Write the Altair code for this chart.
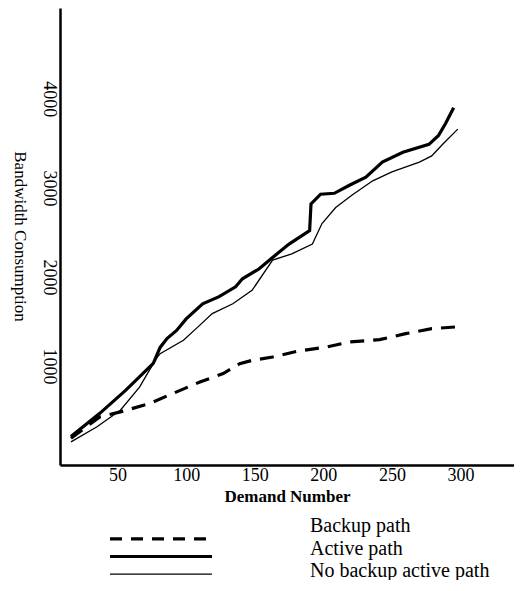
import altair as alt
import pandas as pd

series_names = ["Backup path", "Active path", "No backup active path"]

# Active path (thick solid)
active_x = [16, 37, 56, 76, 81, 86, 93, 100, 112, 124, 136, 141, 153, 163, 175, 190, 191, 198, 208, 219, 231, 243, 258, 277, 284, 289, 295]
active_y = [210, 470, 730, 1030, 1210, 1310, 1400, 1530, 1700, 1780, 1890, 1980, 2090, 2220, 2370, 2520, 2820, 2930, 2940, 3030, 3120, 3290, 3400, 3490, 3590, 3720, 3900]

# No backup active path (thin solid)
nobackup_x = [16, 35, 52, 66, 73, 79, 81, 98, 110, 119, 134, 148, 163, 177, 192, 199, 209, 221, 236, 250, 270, 279, 287, 298]
nobackup_y = [150, 320, 505, 765, 950, 1100, 1140, 1290, 1460, 1590, 1700, 1850, 2190, 2260, 2370, 2600, 2780, 2920, 3080, 3180, 3290, 3360, 3490, 3660]

# Backup path (dashed)
backup_x = [16, 37, 52, 73, 90, 110, 127, 139, 148, 163, 182, 202, 219, 241, 260, 279, 296]
backup_y = [190, 430, 486, 579, 691, 822, 916, 1028, 1065, 1102, 1170, 1214, 1271, 1297, 1364, 1420, 1439]

x_ticks = [50, 100, 150, 200, 250, 300]
y_ticks = [1000, 2000, 3000, 4000]

FONT = "Liberation Serif"

x_enc = alt.X(
    "demand:Q",
    scale=alt.Scale(domain=[8, 339], nice=False, zero=False),
    axis=alt.Axis(
        values=x_ticks,
        format="d",
        title="Demand Number",
        titleFont=FONT,
        titleFontSize=17,
        titleFontWeight="bold",
        titleColor="black",
        titleY=31,
        titleBaseline="middle",
        labelPadding=1,
    ),
)
y_enc = alt.Y(
    "bw:Q",
    scale=alt.Scale(domain=[-110, 5020], nice=False, zero=False),
    axis=alt.Axis(
        values=y_ticks,
        format="d",
        title="Bandwidth Consumption",
        titleFont=FONT,
        titleFontSize=17,
        titleFontWeight="normal",
        titleColor="black",
        titleAngle=90,
        titleX=-41,
        titleY=228,
        titleAlign="center",
        titleBaseline="middle",
        labelAngle=90,
        labelAlign="center",
        labelBaseline="top",
        labelPadding=3,
    ),
)


def line_layer(xs, ys, **style):
    d = pd.DataFrame({"demand": xs, "bw": ys, "order": list(range(len(xs)))})
    return alt.Chart(d).mark_line(color="black", **style).encode(
        x=x_enc, y=y_enc, order="order:Q"
    )


lines = alt.layer(
    line_layer(backup_x, backup_y, strokeWidth=3.2, strokeDash=[14, 9]),
    line_layer(active_x, active_y, strokeWidth=3.2),
    line_layer(nobackup_x, nobackup_y, strokeWidth=1.3),
)

# Legend, drawn below the chart
legend_df = pd.DataFrame({"series": series_names})
legend_styles = [
    {"strokeWidth": 3.2, "strokeDash": [12, 9]},
    {"strokeWidth": 3.2},
    {"strokeWidth": 1.3},
]

sym_y = alt.Y(
    "series:N",
    sort=series_names,
    scale=alt.Scale(domain=series_names, range=[522, 575], padding=0),
    axis=None,
)
legend_rules = alt.layer(
    *[
        alt.Chart(legend_df)
        .transform_filter(alt.datum.series == name)
        .mark_rule(color="black", **style)
        .encode(y=sym_y, x=alt.value(50), x2=alt.value(152))
        for name, style in zip(series_names, legend_styles)
    ]
)

legend_text = (
    alt.Chart(legend_df)
    .mark_text(align="left", baseline="middle", font=FONT, fontSize=20, color="black")
    .encode(
        y=alt.Y(
            "series:N",
            sort=series_names,
            scale=alt.Scale(domain=series_names, range=[518, 563], padding=0),
            axis=None,
        ),
        x=alt.value(250),
        text="series:N",
    )
)

chart = (
    alt.layer(lines, legend_rules, legend_text)
    .resolve_scale(y="independent")
    .properties(
        width=454,
        height=457,
        autosize=alt.AutoSizeParams(type="none"),
        padding={"left": 52, "top": 0, "right": 0, "bottom": 115},
        background="white",
    )
    .configure_view(strokeWidth=0)
    .configure_axis(
        grid=False,
        ticks=False,
        tickSize=0,
        domainColor="black",
        domainWidth=2.5,
        labelFont=FONT,
        labelFontSize=18,
        labelColor="black",
    )
)

chart.save("out.html", embed_options={"renderer": "svg", "actions": False})
